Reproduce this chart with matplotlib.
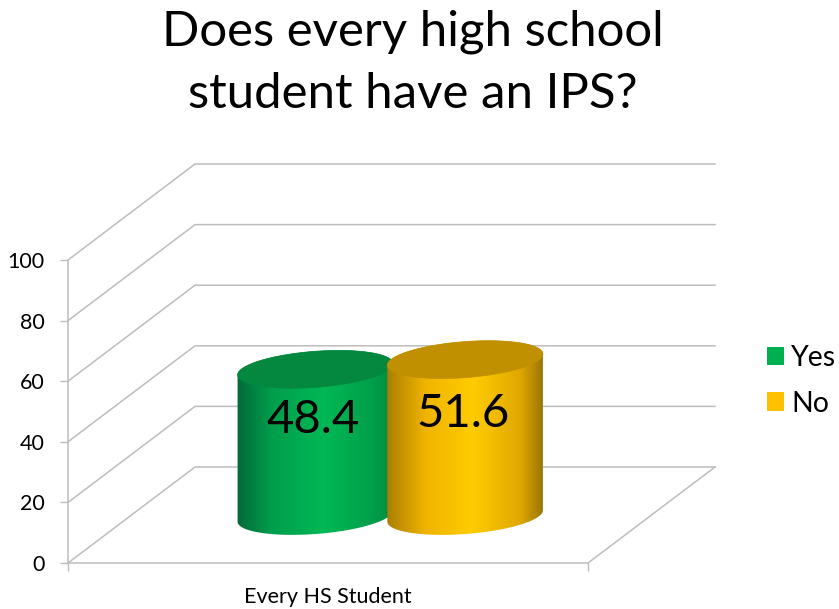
import numpy as np
import matplotlib
matplotlib.use("Agg")
import matplotlib.pyplot as plt
from matplotlib.colors import LinearSegmentedColormap
from matplotlib.patches import Patch, Polygon

series = ["Yes", "No"]
values = [48.4, 51.6]
category = "Every HS Student"
y_ticks = [0, 20, 40, 60, 80, 100]
title = "Does every high school\nstudent have an IPS?"

W, H = 839, 609
plt.rcParams["font.family"] = ["Lato", "DejaVu Sans"]
grey = "#BDBDBD"

# front plane of the chart, in pixels of the picture
left, right, bottom, top = 68, 588, 563, 260
depth_x = 127 / (right - left)
depth_y = 96 / (bottom - top) * 100
px_x = 1 / (right - left)
px_y = 100 / (bottom - top)

fig = plt.figure(figsize=(W / 100, H / 100), dpi=100)
ax = fig.add_axes([left / W, 1 - bottom / H, (right - left) / W, (bottom - top) / H])
ax.patch.set_alpha(0)

for s in ["top", "right"]:
    ax.spines[s].set_visible(False)
for s in ["left", "bottom"]:
    ax.spines[s].set_color(grey)
    ax.spines[s].set_linewidth(1.1)

ax.set_yticks(y_ticks)
ax.tick_params(axis="y", length=6, width=1, color=grey, labelsize=15.5, pad=11)
ax.set_xticks([0, 1])
ax.set_xticklabels([])
ax.tick_params(axis="x", which="major", length=6, width=1, color=grey)
ax.set_xticks([0.5], minor=True)
ax.set_xticklabels([category], minor=True, fontsize=15.5)
ax.tick_params(axis="x", which="minor", length=0, pad=17)

# walls and floor
for v in y_ticks:
    ax.plot([0, depth_x, 1 + depth_x], [v, v + depth_y, v + depth_y],
            color=grey, lw=1.1, clip_on=False, zorder=1)
ax.plot([1, 1 + depth_x], [0, depth_y], color=grey, lw=1.1, clip_on=False, zorder=1)


def ellipse(cx, cy, t, a=78.0, b=18.0, tilt=4.4):
    # tilted ellipse, sizes in pixels, centre in data units
    phi = np.radians(tilt)
    dx = a * np.cos(t) * np.cos(phi) - b * np.sin(t) * np.sin(phi)
    dy = a * np.cos(t) * np.sin(phi) + b * np.sin(t) * np.cos(phi)
    return np.column_stack([cx + dx * px_x, cy + dy * px_y])


bar_colors = [
    [(0, "#04693A"), (0.22, "#009E4C"), (0.55, "#00B855"), (0.85, "#00A04A"), (1, "#008A40")],
    [(0, "#A87E00"), (0.25, "#F0B400"), (0.55, "#FFCC00"), (0.85, "#E0A800"), (1, "#977300")],
]
top_colors = ["#04873F", "#C09000"]
legend_colors = ["#00B050", "#FFC000"]
# bars stand half way back on the floor
centers = [0.5 - 0.144 + depth_x * 0.49, 0.5 + 0.144 + depth_x * 0.49]
half = 78 * px_x
base = depth_y * 0.49

handles = []
for i, (name, v) in enumerate(zip(series, values)):
    cx = centers[i]
    z = 3 + i
    lower = ellipse(cx, base, np.linspace(np.pi, 2 * np.pi, 80))
    upper = ellipse(cx, base + v, np.linspace(0, np.pi, 80))
    body = np.vstack([lower, upper])
    cmap = LinearSegmentedColormap.from_list(name, bar_colors[i])
    im = ax.imshow(np.linspace(0, 1, 256).reshape(1, -1), cmap=cmap, aspect="auto",
                   extent=[cx - half * 1.01, cx + half * 1.01, 0, base + v + depth_y], zorder=z)
    clip = Polygon(body, closed=True, transform=ax.transData)
    im.set_clip_path(clip)
    ax.add_patch(Polygon(ellipse(cx, base + v, np.linspace(0, 2 * np.pi, 160)), closed=True,
                         facecolor=top_colors[i], edgecolor=top_colors[i], lw=0.5, zorder=z + 0.1))
    ax.text(cx - 0.005, base + v * 0.655, f"{v:.1f}", ha="center", va="center",
            fontsize=34, color="black", zorder=10)
    handles.append(Patch(facecolor=legend_colors[i], label=name))

ax.set_xlim(0, 1)
ax.set_ylim(0, 100)

fig.legend(handles=handles, loc="center left", bbox_to_anchor=(767 / W, 1 - 381 / H),
           frameon=False, fontsize=20.5, handlelength=0.6, handleheight=0.6,
           handletextpad=0.25, labelspacing=0.67, borderpad=0, borderaxespad=0)

fig.text(413 / W, 1 - 63 / H, title, ha="center", va="center", fontsize=35.4,
         linespacing=1.5, color="black")

fig.savefig("out.png", dpi=100)
